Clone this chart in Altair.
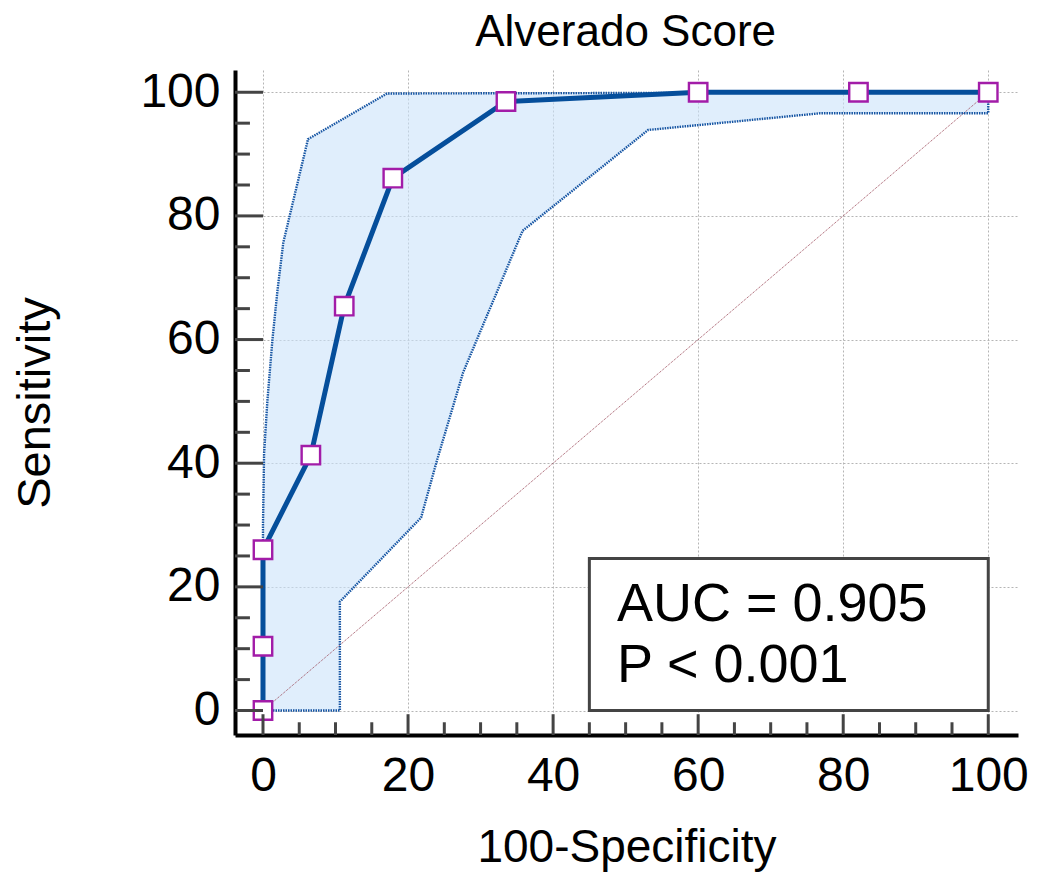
import altair as alt
import pandas as pd

# ROC curve (100-Specificity, Sensitivity)
roc_x = [0, 0, 0, 6.6, 11.2, 17.9, 33.5, 60, 82.1, 100]
roc_y = [0, 10.4, 26.0, 41.3, 65.4, 86.1, 98.5, 100, 100, 100]

# Upper confidence bound
upper_x = [0, 0, 0.15, 0.6, 1.3, 2.0, 2.8, 6.2, 17.1, 100]
upper_y = [0, 30, 41.6, 50, 60, 68, 75.7, 92.4, 99.8, 100]

# Lower confidence bound
lower_x = [0, 10.6, 10.6, 21.8, 24.0, 27.6, 35.8, 53.1, 76.8, 100, 100]
lower_y = [0, 0, 17.6, 31.2, 40.5, 54.7, 77.6, 93.9, 96.6, 96.6, 100]

diag_x = [0, 100]
diag_y = [0, 100]

major_ticks = [0, 20, 40, 60, 80, 100]
minor_ticks = [5, 10, 15, 25, 30, 35, 45, 50, 55, 65, 70, 75, 85, 90, 95]

box_x = [45]
box_x2 = [100]
box_y = [0]
box_y2 = [24.6]

text_labels = ["AUC = 0.905", "P < 0.001"]
text_x = [48.8, 48.8]
text_y = [17.0, 7.2]

title_text = ["Alverado Score"]
title_x = [50]
title_y = [113.1]

X_MIN, X_MAX = -3.86, 104.1
Y_MIN, Y_MAX = -3.96, 103.6
FONT = "Liberation Sans"

xs = alt.Scale(domain=[X_MIN, X_MAX], nice=False, zero=False)
ys = alt.Scale(domain=[Y_MIN, Y_MAX], nice=False, zero=False)

roc_df = pd.DataFrame({"x": roc_x, "y": roc_y, "i": range(len(roc_x))})
up_df = pd.DataFrame({"x": upper_x, "y": upper_y, "i": range(len(upper_x))})
lo_df = pd.DataFrame({"x": lower_x, "y": lower_y, "i": range(len(lower_x))})
poly_x = upper_x + lower_x[::-1]
poly_y = upper_y + lower_y[::-1]
poly_df = pd.DataFrame({"x": poly_x, "y": poly_y, "i": range(len(poly_x))})
diag_df = pd.DataFrame({"x": diag_x, "y": diag_y})

ymaj = pd.DataFrame({"v": major_ticks, "a": X_MIN, "b": 0.0})
ymin_ = pd.DataFrame({"v": minor_ticks, "a": X_MIN, "b": -1.8})
xmaj = pd.DataFrame({"v": major_ticks, "a": Y_MIN, "b": -0.6})
xmin_ = pd.DataFrame({"v": minor_ticks, "a": Y_MIN, "b": -1.9})

box_df = pd.DataFrame({"x": box_x, "x2": box_x2, "y": box_y, "y2": box_y2})
txt_df = pd.DataFrame({"t": text_labels, "x": text_x, "y": text_y})
title_df = pd.DataFrame({"t": title_text, "x": title_x, "y": title_y})

x_axis = alt.Axis(values=major_ticks, grid=True, ticks=False, domain=True,
                  domainColor="black", domainWidth=4, gridColor="#b5b5b5",
                  gridDash=[2, 2], gridWidth=1, labelFont=FONT, labelFontSize=48,
                  labelColor="black", labelPadding=17, labelFlush=False,
                  labelOverlap=False, title="100-Specificity", titleFont=FONT,
                  titleFontSize=46, titleFontWeight="normal", titleColor="black",
                  titlePadding=25)
y_axis = alt.Axis(values=major_ticks, grid=True, ticks=False, domain=True,
                  domainColor="black", domainWidth=4, gridColor="#b5b5b5",
                  gridDash=[2, 2], gridWidth=1, labelFont=FONT, labelFontSize=48,
                  labelColor="black", labelPadding=15, labelFlush=False,
                  labelOverlap=False, title="Sensitivity", titleFont=FONT,
                  titleFontSize=47, titleFontWeight="normal", titleColor="black",
                  titlePadding=80)

base_axes = alt.Chart(diag_df).mark_line(opacity=0).encode(
    x=alt.X("x:Q", scale=xs, axis=x_axis),
    y=alt.Y("y:Q", scale=ys, axis=y_axis),
)

fill = alt.Chart(poly_df).mark_line(fill="#CCE3FA", fillOpacity=0.6, strokeOpacity=0).encode(
    x=alt.X("x:Q", scale=xs), y=alt.Y("y:Q", scale=ys), order="i:Q")

diag = alt.Chart(diag_df).mark_line(color="#9C4A5A", strokeWidth=1, strokeDash=[1, 1]).encode(
    x=alt.X("x:Q", scale=xs), y=alt.Y("y:Q", scale=ys))

upper = alt.Chart(up_df).mark_line(color="#1655A3", strokeWidth=2.4, strokeDash=[1.5, 1]).encode(
    x=alt.X("x:Q", scale=xs), y=alt.Y("y:Q", scale=ys), order="i:Q")
lower = alt.Chart(lo_df).mark_line(color="#1655A3", strokeWidth=2.4, strokeDash=[1.5, 1]).encode(
    x=alt.X("x:Q", scale=xs), y=alt.Y("y:Q", scale=ys), order="i:Q")

roc = alt.Chart(roc_df).mark_line(color="#054E9B", strokeWidth=5).encode(
    x=alt.X("x:Q", scale=xs), y=alt.Y("y:Q", scale=ys), order="i:Q")
pts = alt.Chart(roc_df).mark_point(shape="square", filled=True, fill="white",
                                   stroke="#A21CA8", strokeWidth=2.4, size=340,
                                   opacity=1).encode(
    x=alt.X("x:Q", scale=xs), y=alt.Y("y:Q", scale=ys))

def yticks(df):
    return alt.Chart(df).mark_rule(color="#444444", strokeWidth=3).encode(
        y=alt.Y("v:Q", scale=ys), x=alt.X("a:Q", scale=xs), x2="b:Q")

def xticks(df):
    return alt.Chart(df).mark_rule(color="#444444", strokeWidth=3).encode(
        x=alt.X("v:Q", scale=xs), y=alt.Y("a:Q", scale=ys), y2="b:Q")

box = alt.Chart(box_df).mark_rect(fill="white", stroke="#444444", strokeWidth=3).encode(
    x=alt.X("x:Q", scale=xs), x2="x2:Q", y=alt.Y("y:Q", scale=ys), y2="y2:Q")
txt = alt.Chart(txt_df).mark_text(align="left", baseline="middle", font=FONT,
                                  fontSize=54, color="black").encode(
    x=alt.X("x:Q", scale=xs), y=alt.Y("y:Q", scale=ys), text="t:N")
title = alt.Chart(title_df).mark_text(align="center", baseline="top", font=FONT,
                                      fontSize=44, color="black").encode(
    x=alt.X("x:Q", scale=xs), y=alt.Y("y:Q", scale=ys), text="t:N")

chart = alt.layer(
    base_axes, fill, diag, upper, lower, roc, pts,
    yticks(ymaj), yticks(ymin_), xticks(xmaj), xticks(xmin_), box, txt, title
).properties(
    width=783, height=665,
    padding={"left": 227, "top": 62, "right": 13, "bottom": 142},
    autosize=alt.AutoSizeParams(type="none"),
).configure_view(stroke=None)

chart.save("out.html", embed_options={"renderer": "svg", "actions": False})
